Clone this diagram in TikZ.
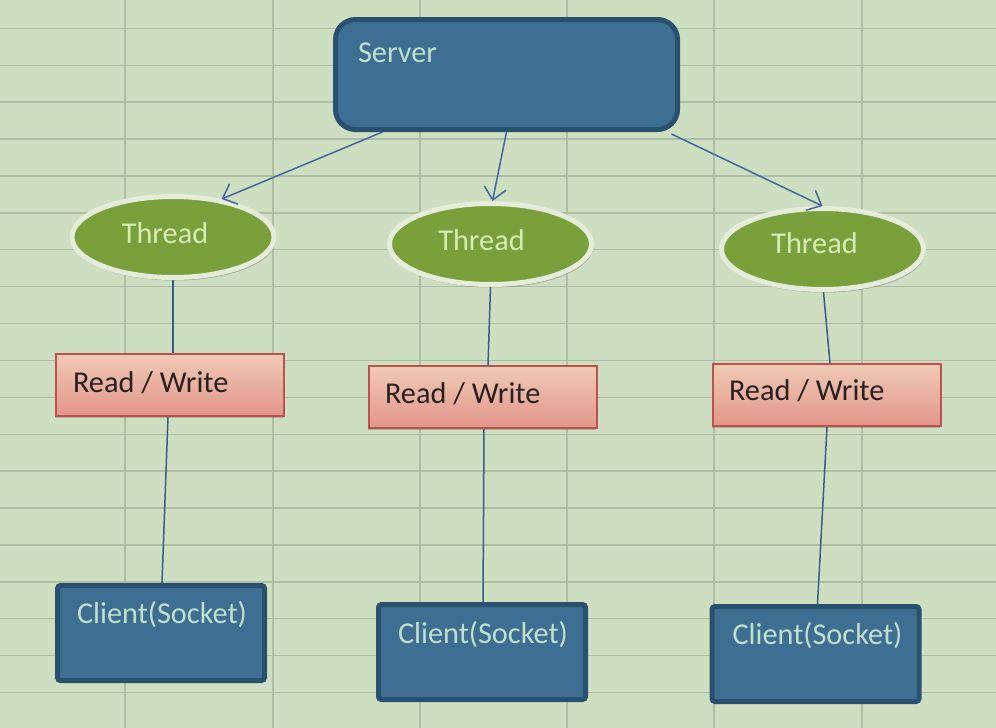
\documentclass[tikz,border=0pt]{standalone}
\usepackage{fontspec}
\setmainfont{Carlito}
\usetikzlibrary{arrows.meta,shapes.geometric,shadows,calc}
\definecolor{bgcol}{HTML}{CEDEC0}
\definecolor{gridcol}{HTML}{AEBDA4}
\definecolor{bluefill}{HTML}{3E6E92}
\definecolor{blueline}{HTML}{2A5070}
\definecolor{bluetext}{HTML}{BEE1CD}
\definecolor{greenfill}{HTML}{7AA03C}
\definecolor{ringcol}{HTML}{E4EDDA}
\definecolor{greentext}{HTML}{D7EBB4}
\definecolor{rwtop}{HTML}{F0CAB6}
\definecolor{rwbot}{HTML}{E1968A}
\definecolor{rwline}{HTML}{BE5050}
\definecolor{rwtext}{HTML}{2A2020}
\definecolor{arrowcol}{HTML}{4664A0}
\definecolor{linecol}{HTML}{3C5C88}
\tikzset{
  basefont/.style={font=\fontsize{30.3}{36}\selectfont, inner sep=0pt, outer sep=0pt},
  srvbox/.style={draw=blueline, line width=5pt, fill=bluefill, rounded corners=20pt,
    minimum width=342pt, minimum height=110pt, inner sep=0pt},
  clientbox/.style={draw=blueline, line width=5pt, fill=bluefill, rounded corners=3pt,
    minimum width=207pt, minimum height=95pt, inner sep=0pt},
  threadell/.style={ellipse, draw=ringcol, line width=5pt, fill=greenfill,
    minimum width=202pt, minimum height=81pt, inner sep=0pt,
    drop shadow={shadow xshift=1.5pt, shadow yshift=-3pt, opacity=0.25, fill=black}},
  rwbox/.style={draw=rwline, line width=2pt, top color=rwtop, bottom color=rwbot,
    minimum width=228pt, minimum height=62pt, inner sep=0pt,
    drop shadow={shadow xshift=-1pt, shadow yshift=-2pt, opacity=0.2, fill=black}},
  bluetxt/.style={basefont, text=bluetext, anchor=base west},
  greentxt/.style={basefont, text=greentext, anchor=base},
  rwtxt/.style={basefont, text=rwtext, anchor=base west},
  arrowline/.style={draw=arrowcol, line width=1.5pt, -{Straight Barb[length=12pt,width=22pt,line width=1.5pt]}},
  conn/.style={draw=linecol, line width=1.5pt},
  gridline/.style={draw=gridcol, line width=1.4pt}
}
\begin{document}
\begin{tikzpicture}[x=1pt,y=-1pt]
\useasboundingbox (0,0) rectangle (996,728);
\fill[bgcol] (0,0) rectangle (996,728);
% spreadsheet grid
\foreach \gx in {125,273,420,567,714,862} {\draw[gridline] (\gx,0) -- (\gx,728);}
\foreach \k in {0,...,18} {\draw[gridline] (0,{28.3+36.9*\k}) -- (996,{28.3+36.9*\k});}

% server
\node[srvbox] (srv) at (506.5,74.5) {};
\node[bluetxt] (srvlbl) at ($(srv.north west)+(25,45)$) {Server};

% threads
\node[threadell] (t1) at (173,237) {};
\node[threadell] (t2) at (490.5,244) {};
\node[threadell] (t3) at (822.5,249) {};
\node[greentxt] (t1lbl) at ($(t1.center)+(-8,6)$) {Thread};
\node[greentxt] (t2lbl) at ($(t2.center)+(-9,6)$) {Thread};
\node[greentxt] (t3lbl) at ($(t3.center)+(-8,4)$) {Thread};

% read / write
\node[rwbox] (rw1) at (170,385) {};
\node[rwbox] (rw2) at (483,397) {};
\node[rwbox] (rw3) at (827,395) {};
\node[rwtxt] (rw1lbl) at ($(rw1.north west)+(18,39)$) {Read / Write};
\node[rwtxt] (rw2lbl) at ($(rw2.north west)+(17,38)$) {Read / Write};
\node[rwtxt] (rw3lbl) at ($(rw3.north west)+(17,37)$) {Read / Write};

% clients
\node[clientbox] (c1) at (161,633) {};
\node[clientbox] (c2) at (482,652) {};
\node[clientbox] (c3) at (815.5,654) {};
\node[bluetxt] (c1lbl) at ($(c1.north west)+(22,40)$) {Client(Socket)};
\node[bluetxt] (c2lbl) at ($(c2.north west)+(22,41)$) {Client(Socket)};
\node[bluetxt] (c3lbl) at ($(c3.north west)+(23,40)$) {Client(Socket)};

% arrows from server
\draw[arrowline] ([xshift=-124pt]srv.south) -- (t1.38);
\draw[arrowline] (srv.south) -- ([xshift=2pt]t2.north);
\draw[arrowline] ([xshift=165pt, yshift=-2pt]srv.south) -- (t3.north);

% plain connectors
\draw[conn] (t1.south) -- (t1.south |- rw1.north);
\draw[conn] ([xshift=-2pt]rw1.south) -- ([xshift=1pt]c1.north);
\draw[conn] (t2.south) -- ([xshift=5pt]rw2.north);
\draw[conn] ([xshift=1pt]rw2.south) -- ([xshift=1pt]c2.north);
\draw[conn] ([xshift=1pt]t3.south) -- ([xshift=3pt]rw3.north);
\draw[conn] (rw3.south) -- ([xshift=2pt]c3.north);
\end{tikzpicture}
\end{document}
